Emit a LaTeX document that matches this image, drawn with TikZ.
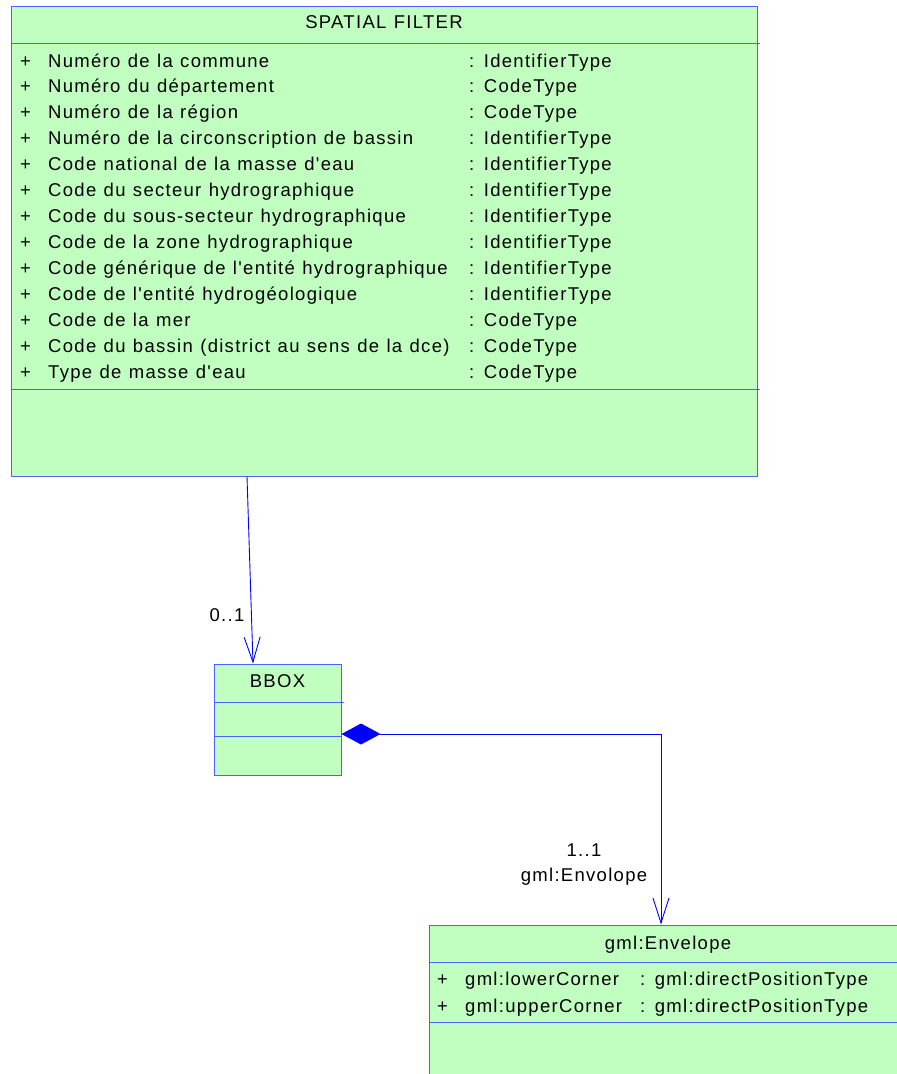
\documentclass[tikz,border=0pt]{standalone}
\usepackage{fontspec}
\setmainfont[LetterSpace=7, WordSpace=1.15, Ligatures=TeXOff]{Liberation Sans}
\usetikzlibrary{arrows.meta}
\definecolor{classfill}{RGB}{192,255,192}
\definecolor{classline}{RGB}{80,96,255}
\definecolor{linkline}{RGB}{0,0,255}
\begin{document}
\begin{tikzpicture}[x=1pt, y=-1pt,
    classbox/.style={draw=classline, fill=classfill, line width=1pt, inner sep=0pt},
    sepline/.style={draw=classline, line width=1pt},
    txt/.style={anchor=base west, inner sep=0pt, font=\fontsize{18.5}{20}\selectfont},
    ctxt/.style={anchor=base, inner sep=0pt, font=\fontsize{18.5}{20}\selectfont},
    assoc/.style={draw=linkline, line width=0.9pt, -{Straight Barb[length=25pt, width=16pt]}},
    compo/.style={draw=linkline, line width=0.9pt, {Diamond[length=39pt, width=21pt]}-{Straight Barb[length=25pt, width=16pt]}}]
    % Page
    \useasboundingbox (0,0) rectangle (897,1074);
    \clip (0,0) rectangle (897,1074);

    % SPATIAL FILTER class
    \node[classbox, minimum width=746pt, minimum height=470pt] (filter) at (384,241) {};
    \draw[sepline] ([yshift=-38pt]filter.north west) -- ([yshift=-38pt, xshift=2pt]filter.north east);
    \draw[sepline] ([yshift=-384pt]filter.north west) -- ([yshift=-384pt, xshift=2pt]filter.north east);
    \node[ctxt] (filtertitle) at (384,28) {SPATIAL FILTER};
    \foreach \name/\type [count=\i from 0] in {
        {Numéro de la commune}/{IdentifierType},
        {Numéro du département}/{CodeType},
        {Numéro de la région}/{CodeType},
        {Numéro de la circonscription de bassin}/{IdentifierType},
        {Code national de la masse d'eau}/{IdentifierType},
        {Code du secteur hydrographique}/{IdentifierType},
        {Code du sous-secteur hydrographique}/{IdentifierType},
        {Code de la zone hydrographique}/{IdentifierType},
        {Code générique de l'entité hydrographique}/{IdentifierType},
        {Code de l'entité hydrogéologique}/{IdentifierType},
        {Code de la mer}/{CodeType},
        {Code du bassin (district au sens de la dce)}/{CodeType},
        {Type de masse d'eau}/{CodeType}} {
        \node[txt] (fplus\i) at (20, 67+25.93*\i) {+};
        \node[txt] (fname\i) at (48, 67+25.93*\i) {\name};
        \node[txt] (ftype\i) at (469, 67+25.93*\i) {: \type};
    }

    % BBOX class
    \node[classbox, minimum width=127pt, minimum height=111pt] (bbox) at (277.5,719.5) {};
    \draw[sepline] ([yshift=-39pt]bbox.north west) -- ([yshift=-39pt, xshift=2pt]bbox.north east);
    \draw[sepline] ([yshift=-73pt]bbox.north west) -- ([yshift=-73pt]bbox.north east);
    \node[ctxt] (bboxtitle) at (277.5,687) {BBOX};

    % gml:Envelope class
    \node[classbox, minimum width=478pt, minimum height=180pt] (envelope) at (668,1015) {};
    \draw[sepline] ([yshift=-38pt]envelope.north west) -- ([yshift=-38pt]envelope.north east);
    \draw[sepline] ([yshift=-98pt]envelope.north west) -- ([yshift=-98pt]envelope.north east);
    \node[ctxt] (envtitle) at (668,949) {gml:Envelope};
    \node[txt] (eplus0) at (437,985) {+};
    \node[txt] (ename0) at (465,985) {gml:lowerCorner};
    \node[txt] (etype0) at (640,985) {: gml:directPositionType};
    \node[txt] (eplus1) at (437,1012) {+};
    \node[txt] (ename1) at (465,1012) {gml:upperCorner};
    \node[txt] (etype1) at (640,1012) {: gml:directPositionType};

    % Links
    \draw[assoc] ([xshift=-137pt]filter.south) -- ([xshift=-24.5pt]bbox.north);
    \node[ctxt] (filtermult) at (227,621) {0..1};
    \draw[compo] ([yshift=-14.5pt]bbox.east) -| ([xshift=-7pt]envelope.north);
    \node[ctxt] (envmult) at (584,856) {1..1};
    \node[ctxt] (envrole) at (584,881) {gml:Envolope};
\end{tikzpicture}
\end{document}
